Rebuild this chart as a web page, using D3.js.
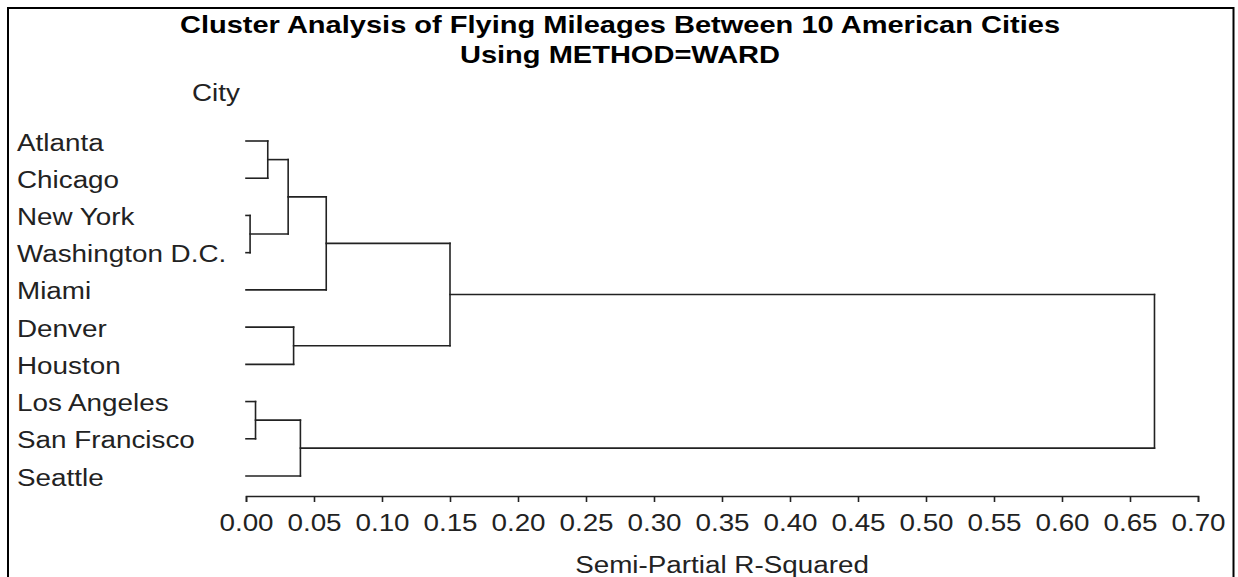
<!DOCTYPE html>
<html>
<head>
<meta charset="utf-8">
<script src="https://cdn.jsdelivr.net/npm/d3@7"></script>
<style>
    body { margin: 0; background: #fff; }
    text { font-family: "Liberation Sans", Arial, sans-serif; fill: #222; }
</style>
</head>
<body>
<svg id="chart" width="1238" height="577"></svg>
<script>
// Leaf order, top to bottom
const cities = ['Atlanta', 'Chicago', 'New York', 'Washington D.C.', 'Miami',
                'Denver', 'Houston', 'Los Angeles', 'San Francisco', 'Seattle'];

// Cluster history (Ward): joined items and semi-partial R-squared
const clusterNames = ['CL9', 'CL8', 'CL7', 'CL6', 'CL5', 'CL4', 'CL3', 'CL2', 'CL1'];
const joinLeft  = ['New York', 'Los Angeles', 'Atlanta', 'CL7', 'Denver', 'CL8', 'CL6', 'CL3', 'CL2'];
const joinRight = ['Washington D.C.', 'San Francisco', 'Chicago', 'CL9', 'Houston', 'Seattle', 'Miami', 'CL5', 'CL4'];
const sprsq     = [0.003, 0.007, 0.016, 0.031, 0.035, 0.040, 0.059, 0.150, 0.668];

const xTicks = d3.range(0, 15).map(i => i * 0.05);

const titleLines = ['Cluster Analysis of Flying Mileages Between 10 American Cities',
                    'Using METHOD=WARD'];

const svg = d3.select('#chart');
const sx = 1.21; // text in the original is stretched horizontally

const margin = { left: 246, right: 40, top: 141, bottom: 81 };
const W = 1238, H = 577;

// frame
svg.append('rect')
    .attr('x', 8).attr('y', 8)
    .attr('width', 1225.5).attr('height', 640)
    .attr('fill', 'none').attr('stroke', '#000').attr('stroke-width', 2);

// title
svg.selectAll('.title').data(titleLines).enter()
    .append('text').attr('class', 'title')
    .attr('transform', (d, i) => `translate(620,${33 + i * 30}) scale(${sx},1)`)
    .attr('text-anchor', 'middle')
    .style('font-weight', 'bold').style('font-size', '24px').style('fill', '#000')
    .text(d => d);

const x = d3.scaleLinear().domain([0, 0.70]).range([margin.left, W - margin.right]);
const y = d3.scalePoint().domain(cities).range([margin.top, H - margin.bottom - 20]);

// Build the tree from the history
const nodes = {};
cities.forEach(c => nodes[c] = { name: c, h: 0, y: y(c), leaf: true });
clusterNames.forEach((name, i) => {
    const a = nodes[joinLeft[i]], b = nodes[joinRight[i]];
    nodes[name] = { name: name, h: sprsq[i], y: (a.y + b.y) / 2, children: [a, b] };
});

// elbows: one horizontal per child, one vertical per join
const segs = [];
clusterNames.forEach(name => {
    const n = nodes[name];
    n.children.forEach(c => segs.push({ x1: x(c.h), y1: c.y, x2: x(n.h), y2: c.y }));
    segs.push({ x1: x(n.h), y1: n.children[0].y, x2: x(n.h), y2: n.children[1].y });
});

svg.append('g').attr('class', 'tree')
    .selectAll('line').data(segs).enter()
    .append('line')
    .attr('x1', d => d.x1).attr('y1', d => d.y1)
    .attr('x2', d => d.x2).attr('y2', d => d.y2)
    .attr('stroke', '#222').attr('stroke-width', 1.6)
    .attr('stroke-linecap', 'square');

// leaf labels
svg.append('g').attr('class', 'labels')
    .selectAll('text').data(cities).enter()
    .append('text')
    .attr('transform', d => `translate(17,${y(d) + 1.5}) scale(${sx},1)`)
    .attr('dominant-baseline', 'central')
    .style('font-size', '23px')
    .text(d => d);

svg.append('text')
    .attr('transform', `translate(192,${93}) scale(${sx},1)`)
    .attr('dominant-baseline', 'central')
    .style('font-size', '23px')
    .text('City');

// x axis
const axisY = 496;
const xAxis = svg.append('g').attr('class', 'x-axis')
    .attr('transform', 'translate(0,' + axisY + ')')
    .call(d3.axisBottom(x).tickValues(xTicks).tickFormat(d3.format('.2f')).tickSize(6).tickSizeOuter(6));

xAxis.select('.domain').attr('stroke', '#222').attr('stroke-width', 1.6);
xAxis.selectAll('.tick line').attr('stroke', '#222').attr('stroke-width', 1.6);
xAxis.selectAll('.tick text')
    .attr('y', 0).attr('dy', null)
    .attr('transform', `translate(0,27) scale(${sx},1)`)
    .attr('dominant-baseline', 'central')
    .style('font-size', '23px').style('font-family', '"Liberation Sans", Arial, sans-serif')
    .style('fill', '#222');

svg.append('text')
    .attr('transform', `translate(${(x.range()[0] + x.range()[1]) / 2},565) scale(${sx},1)`)
    .attr('text-anchor', 'middle')
    .attr('dominant-baseline', 'central')
    .style('font-size', '23px')
    .text('Semi-Partial R-Squared');
</script>
</body>
</html>
